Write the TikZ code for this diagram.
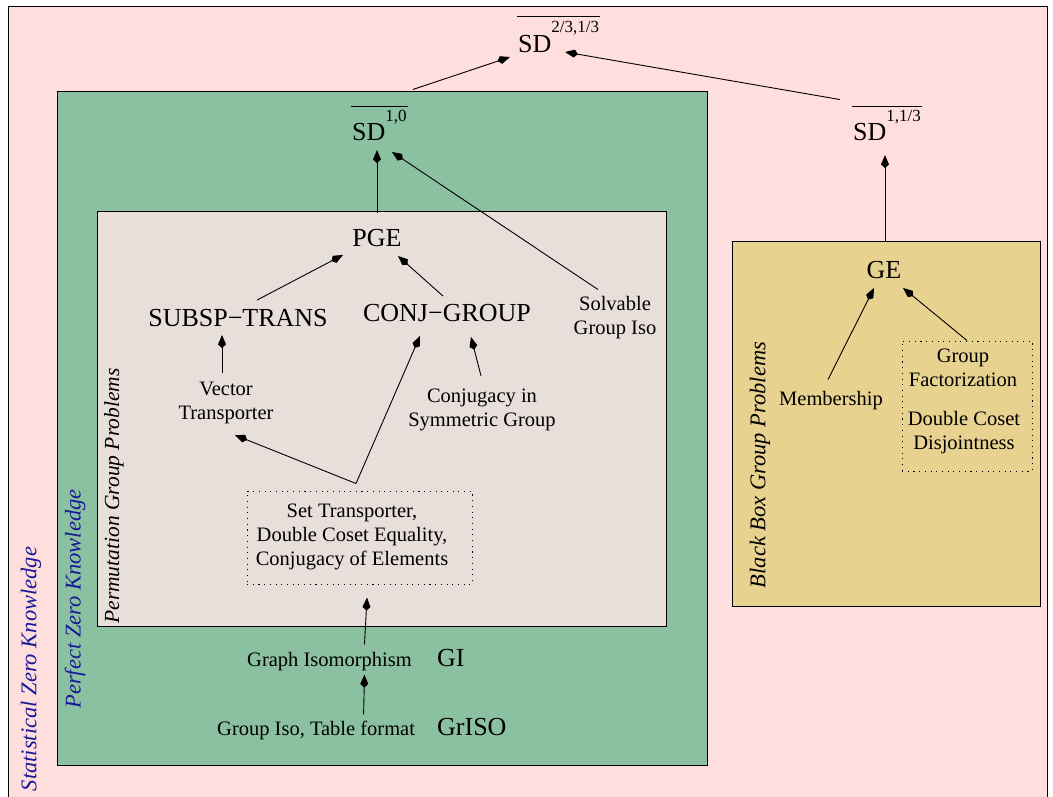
\documentclass[tikz,border=0pt]{standalone}
\usepackage{fontspec}
\setmainfont{Liberation Serif}
\usetikzlibrary{arrows.meta,calc}
\definecolor{szkpink}{RGB}{255,222,222}
\definecolor{pzkgreen}{RGB}{139,192,160}
\definecolor{permgray}{RGB}{232,222,218}
\definecolor{bbtan}{RGB}{232,210,144}
\definecolor{labblue}{RGB}{25,25,150}
\begin{document}
\begin{tikzpicture}[x=1pt,y=-1pt,
  big/.style={font=\fontsize{26}{30}\selectfont, inner sep=0pt},
  small/.style={font=\fontsize{20.5}{24}\selectfont, inner sep=0pt, align=center},
  region/.style={draw=black, line width=0.9pt},
  vlabel/.style={font=\fontsize{22.5}{26}\selectfont\itshape, rotate=90, inner sep=0pt},
  dotbox/.style={draw=black, line width=1pt, dash pattern=on 1.1pt off 4.6pt, inner sep=0pt},
  arr/.style={-{Kite[length=13pt,width=8pt,inset=3.5pt]}, line width=0.9pt},
  bar/.style={line width=0.9pt}
]
\useasboundingbox (0,0) rectangle (1053,796);
\fill[white] (0,0) rectangle (1053,796);
\clip (0,0) rectangle (1053,796);
% regions
\path[fill=szkpink] (8,6) rectangle (1047,800);
\draw[line width=0.9pt] (8,800) -- (8,6) -- (1047,6) -- (1047,800);
\path[region, fill=pzkgreen] (57,91) rectangle (707,765);
\path[region, fill=permgray] (97,211) rectangle (666,626);
\path[region, fill=bbtan] (732,241) rectangle (1040,606);

% region labels
\node[vlabel, text=labblue] (szk) at (31,669) {Statistical Zero Knowledge};
\node[vlabel, text=labblue] (pzk) at (75,599) {Perfect Zero Knowledge};
\node[vlabel, font=\fontsize{21.5}{26}\selectfont\itshape] (pgp) at (114,496) {Permutation Group Problems};
\node[vlabel] (bbgp) at (760,465) {Black Box Group Problems};

% SD classes
\node[big, anchor=base west] (sdtop) at (518,52) {SD\raisebox{20pt}{\fontsize{17}{17}\selectfont 2/3,1/3}};
\node[big, anchor=base west] (sdpzk) at (352,140) {SD\raisebox{19pt}{\fontsize{17}{17}\selectfont 1,0}};
\node[big, anchor=base west] (sdbb) at (853,140) {SD\raisebox{19pt}{\fontsize{17}{17}\selectfont 1,1/3}};
\draw[bar] ($(sdtop.north west)+(-1,-4)$) -- ($(sdtop.north east)+(1,-4)$);
\draw[bar] ($(sdpzk.north west)+(-1,-3)$) -- ($(sdpzk.north east)+(1,-3)$);
\draw[bar] ($(sdbb.north west)+(-1,-3)$) -- ($(sdbb.north east)+(1,-3)$);

% problems
\node[big] (pge) at (377,238) {PGE};
\node[big] (subsp) at (238,318) {SUBSP−TRANS};
\node[big] (conj) at (447,313) {CONJ−GROUP};
\node[small] (solv) at (615,318) {Solvable\\Group Iso};
\node[small] (vec) at (226,403) {Vector\\Transporter};
\node[small] (conjsym) at (482,410) {Conjugacy in\\Symmetric Group};
\node[dotbox, minimum width=225pt, minimum height=93pt] (setbox) at (359.5,537.5) {};
\node[small] (settext) at (352,537) {Set Transporter,\\Double Coset Equality,\\Conjugacy of Elements};
\node[small, anchor=base west] (giso) at (247,666) {Graph Isomorphism};
\node[big, anchor=base west] (gi) at (437,666) {GI};
\node[small, anchor=base west] (grpiso) at (217,735) {Group Iso, Table format};
\node[big, anchor=base west] (griso) at (437,735) {GrISO};

\node[big] (ge) at (884,270) {GE};
\node[small] (memb) at (831,401) {Membership};
\node[dotbox, minimum width=130pt, minimum height=130pt] (rbox) at (967,406) {};
\node[small] (gfact) at (963,368) {Group\\Factorization};
\node[small] (dcd) at (964,433) {Double Coset\\Disjointness};

% connectors
\draw[arr] ($(sdpzk.north east)+(6,-20)$) -- ($(sdtop.base west)+(-8,5)$);
\draw[arr] ($(sdbb.north west)+(-13,-10)$) -- ($(sdtop.base west)+(47,0)$);
\draw[arr] ($(pge.north)+(0,-16)$) -- ($(sdpzk.base west)+(25,10)$);
\draw[arr] ($(solv.north)+(-17,-7)$) -- ($(sdpzk.base west)+(40,12)$);
\draw[arr] ($(subsp.north)+(19,-9)$) -- ($(pge.south)+(-34,8)$);
\draw[arr] ($(conj.north)+(-4,-8)$) -- ($(pge.south)+(21,9)$);
\draw[arr] ($(vec.north)+(-4,-9)$) -- ($(subsp.south)+(-16,8)$);
\draw[arr] ($(conjsym.north)+(-1,-13)$) -- ($(conj.south)+(24,15)$);
\draw[arr] ($(setbox.north)+(-3.5,-7)$) -- ($(vec.south)+(9,11)$);
\draw[arr] ($(setbox.north)+(-3.5,-7)$) -- ($(conj.south)+(-27,14)$);
\draw[arr] ($(giso.north)+(35,-7)$) -- ($(setbox.south)+(7.5,13)$);
\draw[arr] ($(grpiso.north)+(47.5,-6)$) -- ($(giso.south)+(35,4)$);
\draw[arr] ($(ge.north)+(1,-20)$) -- ($(sdbb.base west)+(32,15)$);
\draw[arr] ($(memb.north)+(-3,-12)$) -- ($(ge.south)+(-10,9)$);
\draw[arr] (rbox.north) -- ($(ge.south)+(19,9)$);
\end{tikzpicture}
\end{document}
